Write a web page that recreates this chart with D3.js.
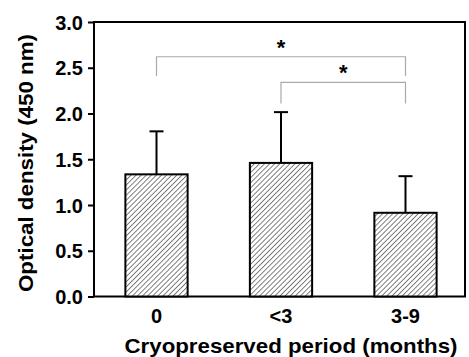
<!DOCTYPE html>
<html><head><meta charset="utf-8">
<script src="https://cdn.jsdelivr.net/npm/d3@7"></script>
<style>body{margin:0;background:#fff}svg{display:block}text{font-family:"Liberation Sans",Arial,sans-serif;font-weight:bold}</style>
</head><body>
<svg id="c" width="469" height="357"></svg>
<script>
const categories = ["0", "<3", "3-9"];
const means = [1.335, 1.46, 0.915];
const errors = [0.47, 0.555, 0.40];
const yTicks = [0.0, 0.5, 1.0, 1.5, 2.0, 2.5, 3.0];
const brackets = [
  {from: "0", to: "3-9", level: 2.62, drop: 0.21, label: "*"},
  {from: "<3", to: "3-9", level: 2.34, drop: 0.23, label: "*"}
];

const W = 469, H = 357;
const m = {l: 94, r: 4, t: 22, b: 60.5};
const svg = d3.select("#c");
const x = d3.scaleBand().domain(categories).range([m.l + 3, W - m.r]).paddingInner(0.5).paddingOuter(0.228);
const y = d3.scaleLinear().domain([0, 3]).range([H - m.b, m.t]);

const defs = svg.append("defs");
const pat = defs.append("pattern").attr("id", "hatch").attr("patternUnits", "userSpaceOnUse")
  .attr("width", 3.6).attr("height", 3.6).attr("patternTransform", "rotate(45)");
pat.append("rect").attr("width", 3.6).attr("height", 3.6).attr("fill", "#fff");
pat.append("line").attr("x1", 0).attr("y1", 0).attr("x2", 0).attr("y2", 3.6)
  .attr("stroke", "#000").attr("stroke-width", 1);

// frame
svg.append("rect").attr("x", m.l).attr("y", m.t).attr("width", W - m.r - m.l).attr("height", H - m.b - m.t)
  .attr("fill", "none").attr("stroke", "#000").attr("stroke-width", 2);

// error bars
const g = svg.append("g");
categories.forEach((c, i) => {
  const cx = x(c) + x.bandwidth() / 2;
  g.append("line").attr("x1", cx).attr("x2", cx).attr("y1", y(means[i])).attr("y2", y(means[i] + errors[i]))
    .attr("stroke", "#000").attr("stroke-width", 2);
  g.append("line").attr("x1", cx - 7).attr("x2", cx + 7).attr("y1", y(means[i] + errors[i])).attr("y2", y(means[i] + errors[i]))
    .attr("stroke", "#000").attr("stroke-width", 2);
});
// bars
g.selectAll("rect.bar").data(categories).join("rect").attr("class", "bar")
  .attr("x", d => x(d)).attr("width", x.bandwidth())
  .attr("y", (d, i) => y(means[i])).attr("height", (d, i) => y(0) - y(means[i]))
  .attr("fill", "url(#hatch)").attr("stroke", "#000").attr("stroke-width", 2);

// y axis
const ya = svg.append("g").attr("transform", `translate(${m.l},0)`)
  .call(d3.axisLeft(y).tickValues(yTicks).tickFormat(d3.format(".1f")).tickSize(6).tickPadding(5));
ya.select(".domain").remove();
ya.selectAll("line").attr("stroke-width", 2);
ya.selectAll("text").attr("font-size", 20).attr("fill", "#000").attr("dy", "0.36em");

// x axis labels
const xa = svg.append("g").attr("transform", `translate(0,${H - m.b})`)
  .call(d3.axisBottom(x).tickSize(0).tickPadding(12));
xa.select(".domain").remove();
xa.selectAll("text").attr("font-size", 20).attr("fill", "#000");

// brackets
brackets.forEach(b => {
  const x1 = x(b.from) + x.bandwidth() / 2, x2 = x(b.to) + x.bandwidth() / 2;
  const yl = y(b.level), yd = y(b.level - b.drop);
  svg.append("path").attr("d", `M${x1},${yd}V${yl}H${x2}V${yd}`)
    .attr("fill", "none").attr("stroke", "#aaa").attr("stroke-width", 1.2);
  svg.append("text").attr("x", (x1 + x2) / 2).attr("y", yl - 2).attr("text-anchor", "middle")
    .attr("font-size", 22).text(b.label);
});

// titles
svg.append("text").attr("x", 291).attr("y", 352.5).attr("text-anchor", "middle").attr("font-size", 21)
  .attr("textLength", 333).attr("lengthAdjust", "spacingAndGlyphs")
  .text("Cryopreserved period (months)");
svg.append("text").attr("transform", "translate(33,163) rotate(-90)").attr("text-anchor", "middle")
  .attr("font-size", 21).attr("textLength", 258).attr("lengthAdjust", "spacingAndGlyphs")
  .text("Optical density (450 nm)");
</script>
</body></html>
